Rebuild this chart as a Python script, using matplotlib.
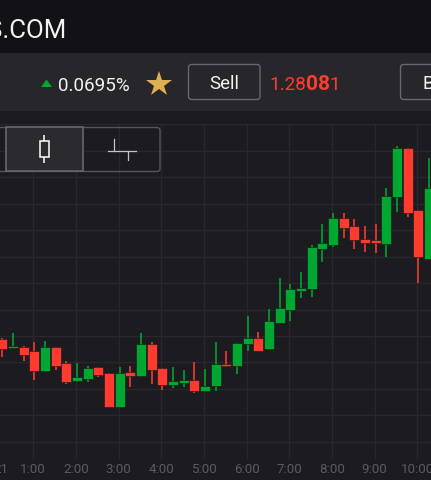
# -*- coding: utf-8 -*-
import numpy as np
import matplotlib
matplotlib.use('Agg')
import matplotlib.pyplot as plt
from matplotlib.patches import Rectangle, FancyBboxPatch, Polygon

plt.rcParams['font.family'] = ['Roboto', 'DejaVu Sans']

# candle values, in chart points
opens = [140.7, 132, 133, 129, 109, 132.7, 116.7, 99, 100.7, 113, 106.7, 73, 107.7, 104,
         136, 111.7, 95.3, 96.7, 99.7, 89.3, 94.3, 116.3, 114.3, 135.7, 142, 130.7, 157,
         170, 189.3, 191, 231.3, 235, 261.7, 253.7, 241.3, 239.7, 236, 283, 331.7, 269.7, 221.3]
closes = [131, 134, 124.7, 109, 133.3, 114.3, 98.3, 103, 112.3, 105.3, 73.3, 107, 103.7, 136.3,
          110, 95, 98.7, 100, 89.3, 94, 115.7, 114, 137.3, 142, 129, 159, 172,
          191.3, 192.3, 232.7, 237.3, 262, 251.7, 240.3, 236.7, 236.7, 284, 331.7, 267, 223, 292]
highs = [142.3, 146.7, 134, 137.7, 139, 133.3, 119, 117, 113.7, 113, 106.7, 112.7, 113.7, 146.7,
         137.7, 111.7, 113, 109.7, 118, 110.7, 137.7, 129, 137.3, 164.3, 148, 171, 202.3,
         195.7, 208, 234.7, 256, 266.7, 267.3, 261, 254, 256, 292, 334, 331.7, 269.7, 321.7]
lows = [123.3, 132, 119.3, 100, 109, 110, 95.7, 98.3, 98, 103.3, 73.3, 73, 92.7, 103.3,
        96.3, 89.7, 92, 93.3, 87, 89.3, 89, 113, 105.7, 129, 129, 129.7, 157,
        159, 182.3, 183.3, 218, 232.7, 241.7, 231.3, 228, 226.7, 223.3, 268.3, 262.7, 196.7, 221.3]

hour_ticks = [1, 2, 3, 4, 5, 6, 7, 8, 9, 10]
hour_labels = ['1:00', '2:00', '3:00', '4:00', '5:00', '6:00', '7:00', '8:00', '9:00', '10:00']
price_ticks = [355.5 - 26.43 * k for k in range(13)]

first_candle = 0.274
candles_per_hour = 4

HEADER = '#121216'
BAR = '#26262b'
CHART = '#1b1b20'
GRID = '#27272c'
GREEN = '#00a832'
RED = '#ff3b30'
TICK = '#5a5a5f'
BTN = '#68686c'

W, H = 431, 480
fig = plt.figure(figsize=((W + 0.01) / 100, (H + 0.01) / 100), dpi=100, facecolor=CHART)

# chart area
ax = fig.add_axes([0, (H - 459) / H, 1, 335 / H], facecolor=CHART)
ax.set_xlim(1 - 33.3 / 42.67, 1 + (W - 33.3) / 42.67)
ax.set_ylim(21, 356)
ax.set_xticks(hour_ticks)
ax.set_xticklabels(hour_labels, fontsize=9.6, color=TICK)
ax.set_yticks(price_ticks)
ax.tick_params(axis='x', length=0, pad=3)
ax.tick_params(axis='y', length=0, labelleft=False)
ax.grid(True, color=GRID, linewidth=1.0)
ax.set_axisbelow(True)
for s in ax.spines.values():
    s.set_visible(False)

t = first_candle + np.arange(len(opens)) / candles_per_hour
colors = [GREEN if c >= o else RED for o, c in zip(opens, closes)]
ax.vlines(t, lows, highs, colors=colors, linewidth=1.15, zorder=3)
bottoms = [min(o, c) for o, c in zip(opens, closes)]
heights = [abs(c - o) for o, c in zip(opens, closes)]
ax.bar(t, heights, bottom=bottoms, width=9.8 / 42.67, color=colors,
       edgecolor='#15151a', linewidth=0.4, zorder=4)

# page furniture, in pixels
ui = fig.add_axes([0, 0, 1, 1], facecolor='none')
ui.set_xlim(0, W)
ui.set_ylim(H, 0)
ui.axis('off')

ui.add_patch(Rectangle((0, 0), W, 53, color=HEADER, lw=0))
ui.add_patch(Rectangle((0, 53), W, 58, color=BAR, lw=0))

ui.text(66, 37.5, 'S.COM', color='#f2f2f2', fontsize=18.6, ha='right', va='baseline')
ui.text(8.5, 472.5, '21', color=TICK, fontsize=9.6, ha='right', va='baseline')

ui.add_patch(Polygon([(41, 87), (52, 87), (46.5, 79.5)], closed=True, color=GREEN, lw=0))
ui.text(57.5, 91, '0.0695%', color='#f2f2f2', fontsize=13.6, va='baseline')
ui.plot([159], [84], marker='*', markersize=19, color='#dcb052', mew=0)

ui.add_patch(FancyBboxPatch((188.5, 64.5), 71.5, 35, boxstyle='round,pad=0,rounding_size=3',
                            fc='none', ec=BTN, lw=1.0))
ui.text(224.3, 88.5, 'Sell', color='#f2f2f2', fontsize=13.4, ha='center', va='baseline')
ui.text(269.5, 90, '1.28', color=RED, fontsize=13.6, va='baseline')
ui.text(305.5, 90, '08', color=RED, fontsize=15, fontweight='bold', va='baseline')
ui.text(329.5, 90, '1', color=RED, fontsize=13.6, va='baseline')
ui.add_patch(FancyBboxPatch((400.5, 64.5), 60, 35, boxstyle='round,pad=0,rounding_size=3',
                            fc='none', ec=BTN, lw=1.0))
ui.text(422.5, 88.5, 'Buy', color='#f2f2f2', fontsize=13.4, va='baseline')

# chart type buttons
ui.add_patch(FancyBboxPatch((-10, 127.5), 170, 44, boxstyle='round,pad=0,rounding_size=3',
                            fc='none', ec='#56565a', lw=1.0))
ui.add_patch(Rectangle((5.5, 127.5), 77.5, 44, fc='#2a2a2f', ec='#68686c', lw=1.2))
ui.plot([44, 44], [135.5, 163], color='white', lw=1.1, solid_capstyle='butt')
ui.add_patch(Rectangle((40, 141.5), 9, 16, fc='#2a2a2f', ec='white', lw=1.1, zorder=3))
ui.plot([108, 136], [151, 151], color='#c4c4c6', lw=0.9)
ui.plot([114, 114], [139, 151], color='#c4c4c6', lw=0.9)
ui.plot([128, 128], [151, 160], color='#c4c4c6', lw=0.9)

fig.savefig('out.png', dpi=100, facecolor=fig.get_facecolor())
